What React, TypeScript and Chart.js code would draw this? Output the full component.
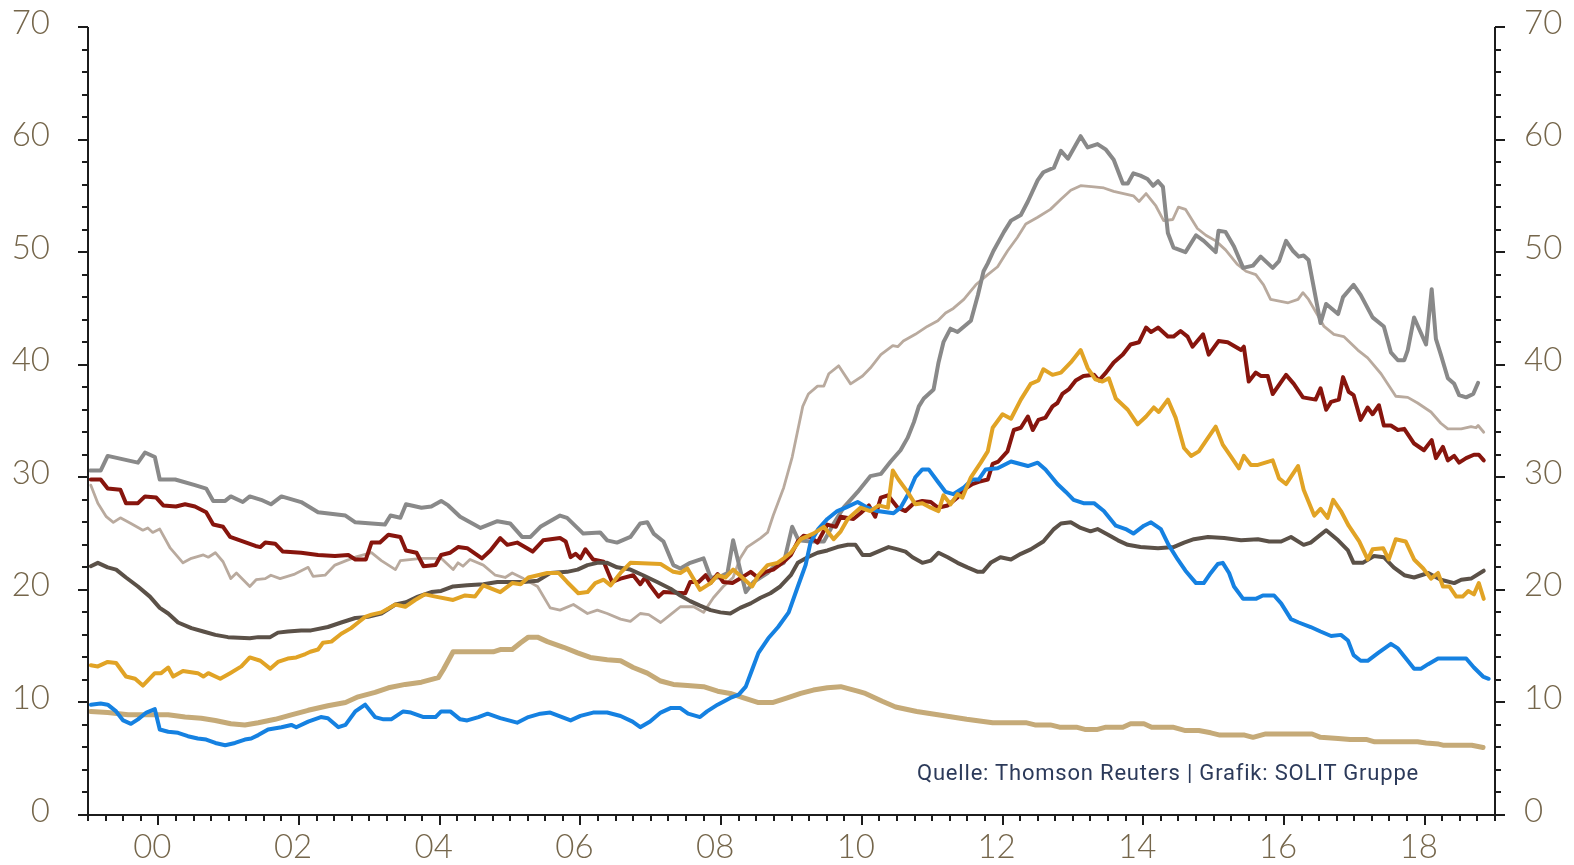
import React, { useEffect, useRef } from 'react';
import { Chart, registerables } from 'chart.js';

Chart.register(...registerables);

// ---- axis definitions ----
const xTickYears = [2000, 2002, 2004, 2006, 2008, 2010, 2012, 2014, 2016, 2018];
const xTickLabels = ['00', '02', '04', '06', '08', '10', '12', '14', '16', '18'];
const yTickValues = [0, 10, 20, 30, 40, 50, 60, 70];
const sourceText = 'Quelle: Thomson Reuters | Grafik: SOLIT Gruppe';

// ---- series: [year, value] ----
const grayPts = [
  [1999.03, 30.6], [1999.18, 30.6], [1999.28, 31.9], [1999.71, 31.3], [1999.81, 32.2], [1999.95, 31.8],
  [2000.02, 29.8], [2000.24, 29.8], [2000.52, 29.3], [2000.68, 29.0], [2000.78, 27.9], [2000.95, 27.9],
  [2001.03, 28.3], [2001.2, 27.8], [2001.3, 28.3], [2001.46, 28.0], [2001.6, 27.6], [2001.75, 28.3],
  [2002.03, 27.8], [2002.27, 26.9], [2002.66, 26.6], [2002.8, 26.0], [2003.22, 25.8], [2003.3, 26.6],
  [2003.44, 26.4], [2003.52, 27.6], [2003.74, 27.3], [2003.88, 27.4], [2004.02, 27.9], [2004.12, 27.5],
  [2004.29, 26.5], [2004.58, 25.5], [2004.82, 26.1], [2005.0, 25.9], [2005.17, 24.7], [2005.29, 24.7],
  [2005.43, 25.6], [2005.71, 26.6], [2005.81, 26.4], [2006.04, 25.0], [2006.28, 25.1], [2006.38, 24.4],
  [2006.52, 24.2], [2006.71, 24.7], [2006.85, 25.9], [2006.95, 26.0], [2007.04, 25.0], [2007.18, 24.3],
  [2007.32, 22.2], [2007.42, 21.9], [2007.56, 22.4], [2007.75, 22.8], [2007.85, 21.1], [2007.96, 21.1],
  [2008.09, 21.5], [2008.17, 24.4], [2008.27, 21.8], [2008.35, 19.8], [2008.46, 20.7], [2008.66, 21.5],
  [2008.74, 22.0], [2008.89, 22.4], [2009.01, 25.6], [2009.1, 24.4], [2009.27, 24.3], [2009.46, 24.3],
  [2009.6, 25.9], [2009.74, 27.3], [2009.94, 28.7], [2010.12, 30.1], [2010.27, 30.3], [2010.41, 31.4],
  [2010.55, 32.4], [2010.65, 33.5], [2010.74, 34.9], [2010.81, 36.3], [2010.88, 37.0], [2011.02, 37.8],
  [2011.09, 40.2], [2011.16, 42.0], [2011.26, 43.2], [2011.36, 42.9], [2011.55, 43.9], [2011.65, 46.2],
  [2011.73, 48.3], [2011.79, 49.0], [2011.87, 50.1], [2012.02, 51.8], [2012.12, 52.8], [2012.26, 53.3],
  [2012.36, 54.5], [2012.5, 56.4], [2012.58, 57.1], [2012.73, 57.5], [2012.83, 59.0], [2012.93, 58.3],
  [2013.11, 60.3], [2013.21, 59.3], [2013.35, 59.6], [2013.47, 59.1], [2013.58, 58.2], [2013.71, 56.1],
  [2013.78, 56.1], [2013.86, 57.0], [2013.96, 56.8], [2014.06, 56.5], [2014.14, 55.9], [2014.21, 56.3],
  [2014.28, 55.8], [2014.35, 51.7], [2014.43, 50.4], [2014.6, 50.0], [2014.75, 51.5], [2014.86, 51.0],
  [2015.03, 50.0], [2015.07, 51.9], [2015.17, 51.8], [2015.29, 50.5], [2015.42, 48.6], [2015.56, 48.8],
  [2015.67, 49.6], [2015.84, 48.6], [2015.93, 49.2], [2016.03, 51.0], [2016.13, 50.1], [2016.21, 49.6],
  [2016.28, 49.7], [2016.35, 49.3], [2016.52, 43.7], [2016.6, 45.4], [2016.77, 44.5], [2016.84, 46.0],
  [2016.99, 47.1], [2017.09, 46.2], [2017.26, 44.2], [2017.42, 43.4], [2017.52, 41.1], [2017.62, 40.4],
  [2017.71, 40.4], [2017.76, 41.3], [2017.85, 44.2], [2017.92, 43.2], [2018.02, 41.8], [2018.1, 46.7],
  [2018.16, 42.3], [2018.23, 40.9], [2018.33, 38.8], [2018.42, 38.3], [2018.49, 37.3], [2018.59, 37.1],
  [2018.69, 37.4], [2018.76, 38.4],
];

const taupePts = [
  [1999.04, 29.3], [1999.14, 27.7], [1999.26, 26.5], [1999.36, 26.0], [1999.46, 26.4], [1999.61, 25.9],
  [1999.78, 25.3], [1999.85, 25.5], [1999.92, 25.1], [2000.02, 25.4], [2000.17, 23.7], [2000.35, 22.4],
  [2000.47, 22.8], [2000.64, 23.1], [2000.71, 22.9], [2000.81, 23.3], [2000.92, 22.5], [2001.03, 21.0],
  [2001.11, 21.5], [2001.3, 20.3], [2001.39, 20.9], [2001.52, 21.0], [2001.6, 21.3], [2001.73, 21.0],
  [2001.94, 21.4], [2002.13, 22.0], [2002.2, 21.2], [2002.37, 21.3], [2002.51, 22.2], [2002.67, 22.6],
  [2002.8, 22.9], [2003.03, 23.3], [2003.17, 22.6], [2003.37, 21.8], [2003.44, 22.6], [2003.74, 22.8],
  [2004.02, 22.8], [2004.19, 21.8], [2004.26, 22.4], [2004.33, 22.1], [2004.43, 22.7], [2004.62, 22.2],
  [2004.79, 21.3], [2004.93, 21.1], [2005.03, 21.5], [2005.19, 21.0], [2005.39, 20.3], [2005.57, 18.4],
  [2005.71, 18.2], [2005.9, 18.7], [2006.1, 17.9], [2006.24, 18.2], [2006.38, 17.9], [2006.57, 17.4],
  [2006.71, 17.2], [2006.85, 17.9], [2006.97, 17.8], [2007.14, 17.1], [2007.28, 17.8], [2007.42, 18.5],
  [2007.61, 18.5], [2007.75, 18.0], [2007.89, 19.3], [2008.03, 20.3], [2008.17, 21.1], [2008.27, 22.8],
  [2008.37, 23.8], [2008.56, 24.6], [2008.66, 25.1], [2008.74, 26.6], [2008.89, 29.1], [2009.01, 31.8],
  [2009.16, 36.3], [2009.24, 37.4], [2009.37, 38.1], [2009.46, 38.1], [2009.53, 39.2], [2009.67, 39.9],
  [2009.84, 38.3], [2010.01, 39.0], [2010.12, 39.7], [2010.27, 40.9], [2010.44, 41.7], [2010.51, 41.6],
  [2010.59, 42.1], [2010.76, 42.7], [2010.93, 43.4], [2011.08, 43.9], [2011.19, 44.6], [2011.3, 45.0],
  [2011.45, 45.8], [2011.62, 47.1], [2011.79, 48.0], [2011.93, 48.7], [2012.07, 50.1], [2012.21, 51.3],
  [2012.33, 52.5], [2012.5, 53.1], [2012.68, 53.8], [2012.83, 54.7], [2012.97, 55.5], [2013.11, 55.9],
  [2013.3, 55.8], [2013.44, 55.7], [2013.58, 55.4], [2013.72, 55.2], [2013.86, 55.0], [2013.94, 54.5],
  [2014.04, 55.2], [2014.18, 54.1], [2014.29, 52.8], [2014.42, 52.9], [2014.5, 54.0], [2014.6, 53.8],
  [2014.77, 52.1], [2014.89, 51.5], [2015.03, 51.0], [2015.17, 50.2], [2015.34, 48.9], [2015.46, 48.3],
  [2015.6, 48.0], [2015.71, 47.1], [2015.81, 45.8], [2016.06, 45.5], [2016.2, 45.8], [2016.27, 46.4],
  [2016.35, 45.8], [2016.48, 44.4], [2016.57, 43.4], [2016.71, 42.7], [2016.85, 42.5], [2017.05, 41.3],
  [2017.19, 40.6], [2017.38, 39.2], [2017.59, 37.2], [2017.76, 37.1], [2017.9, 36.6], [2018.09, 35.8],
  [2018.23, 34.8], [2018.33, 34.3], [2018.52, 34.3], [2018.66, 34.5], [2018.73, 34.4], [2018.76, 34.6],
  [2018.84, 34.0],
];

const redPts = [
  [1999.04, 29.8], [1999.18, 29.8], [1999.28, 29.0], [1999.46, 28.9], [1999.54, 27.7], [1999.71, 27.7],
  [1999.81, 28.3], [1999.97, 28.2], [2000.07, 27.5], [2000.25, 27.4], [2000.38, 27.6], [2000.52, 27.4],
  [2000.68, 26.9], [2000.78, 25.8], [2000.92, 25.6], [2001.02, 24.7], [2001.16, 24.4], [2001.38, 23.9],
  [2001.45, 23.8], [2001.52, 24.2], [2001.66, 24.1], [2001.77, 23.4], [2002.03, 23.3], [2002.27, 23.1],
  [2002.51, 23.0], [2002.7, 23.1], [2002.8, 22.7], [2002.95, 22.7], [2003.03, 24.2], [2003.15, 24.2],
  [2003.27, 24.9], [2003.44, 24.7], [2003.52, 23.5], [2003.67, 23.3], [2003.77, 22.1], [2003.94, 22.2],
  [2004.02, 23.1], [2004.15, 23.3], [2004.26, 23.8], [2004.39, 23.7], [2004.6, 22.8], [2004.72, 23.5],
  [2004.86, 24.6], [2004.96, 24.0], [2005.1, 24.2], [2005.32, 23.4], [2005.47, 24.4], [2005.71, 24.6],
  [2005.79, 24.3], [2005.86, 22.9], [2005.93, 23.2], [2006.0, 22.8], [2006.07, 23.6], [2006.18, 22.7],
  [2006.33, 22.5], [2006.45, 20.7], [2006.57, 21.0], [2006.75, 21.3], [2006.85, 20.5], [2006.92, 21.1],
  [2006.99, 20.4], [2007.11, 19.4], [2007.18, 19.8], [2007.49, 19.7], [2007.56, 20.7], [2007.68, 20.7],
  [2007.78, 21.3], [2007.85, 20.6], [2007.95, 21.4], [2008.03, 20.7], [2008.16, 20.6], [2008.27, 21.0],
  [2008.42, 21.6], [2008.52, 21.1], [2008.63, 21.6], [2008.74, 21.8], [2008.89, 22.5], [2008.99, 23.1],
  [2009.09, 24.3], [2009.17, 24.8], [2009.27, 24.7], [2009.37, 24.2], [2009.51, 25.8], [2009.63, 25.6],
  [2009.7, 26.5], [2009.88, 26.3], [2009.98, 26.8], [2010.1, 27.5], [2010.19, 26.5], [2010.27, 28.2],
  [2010.37, 28.4], [2010.51, 27.3], [2010.62, 27.0], [2010.74, 27.7], [2010.86, 27.9], [2010.98, 27.8],
  [2011.08, 27.3], [2011.22, 27.5], [2011.36, 28.2], [2011.45, 28.9], [2011.57, 29.4], [2011.66, 29.6],
  [2011.79, 29.8], [2011.86, 31.2], [2011.94, 31.4], [2012.07, 32.3], [2012.16, 34.2], [2012.26, 34.4],
  [2012.36, 35.4], [2012.43, 34.2], [2012.51, 35.1], [2012.61, 35.3], [2012.71, 36.3], [2012.78, 36.6],
  [2012.85, 37.4], [2012.94, 37.8], [2013.04, 38.6], [2013.15, 39.0], [2013.3, 39.1], [2013.37, 38.6],
  [2013.47, 39.3], [2013.58, 40.2], [2013.71, 40.9], [2013.82, 41.8], [2013.94, 42.0], [2014.04, 43.3],
  [2014.11, 42.9], [2014.21, 43.3], [2014.35, 42.5], [2014.43, 42.5], [2014.53, 43.0], [2014.63, 42.5],
  [2014.7, 41.6], [2014.85, 42.7], [2014.93, 40.9], [2015.07, 42.1], [2015.2, 42.0], [2015.39, 41.3],
  [2015.43, 41.6], [2015.5, 38.5], [2015.6, 39.3], [2015.67, 39.0], [2015.77, 39.0], [2015.84, 37.4],
  [2016.03, 39.1], [2016.14, 38.3], [2016.27, 37.1], [2016.45, 36.9], [2016.52, 37.9], [2016.6, 36.0],
  [2016.67, 36.7], [2016.78, 36.9], [2016.84, 38.9], [2016.92, 37.6], [2016.99, 37.3], [2017.09, 35.1],
  [2017.19, 36.2], [2017.26, 35.6], [2017.35, 36.4], [2017.42, 34.6], [2017.52, 34.6], [2017.62, 34.2],
  [2017.71, 34.3], [2017.85, 33.0], [2017.99, 32.4], [2018.1, 33.3], [2018.16, 31.7], [2018.26, 32.7],
  [2018.33, 31.5], [2018.42, 31.9], [2018.49, 31.3], [2018.59, 31.7], [2018.7, 32.0], [2018.77, 32.0],
  [2018.84, 31.5],
];

const goldPts = [
  [1999.04, 13.3], [1999.14, 13.2], [1999.28, 13.6], [1999.4, 13.5], [1999.54, 12.3], [1999.67, 12.1],
  [1999.78, 11.5], [1999.95, 12.6], [2000.04, 12.6], [2000.14, 13.1], [2000.21, 12.3], [2000.35, 12.8],
  [2000.56, 12.6], [2000.64, 12.3], [2000.71, 12.6], [2000.88, 12.1], [2001.02, 12.6], [2001.18, 13.2],
  [2001.3, 14.0], [2001.45, 13.7], [2001.59, 13.0], [2001.7, 13.6], [2001.84, 13.9], [2001.96, 14.0],
  [2002.09, 14.3], [2002.16, 14.5], [2002.27, 14.7], [2002.34, 15.3], [2002.46, 15.4], [2002.6, 16.1],
  [2002.74, 16.6], [2002.84, 17.1], [2002.94, 17.6], [2003.03, 17.8], [2003.17, 18.0], [2003.37, 18.7],
  [2003.51, 18.5], [2003.65, 19.1], [2003.79, 19.6], [2003.94, 19.4], [2004.19, 19.1], [2004.36, 19.5],
  [2004.5, 19.4], [2004.62, 20.4], [2004.86, 19.8], [2005.03, 20.6], [2005.15, 20.5], [2005.26, 21.1],
  [2005.53, 21.5], [2005.69, 21.5], [2005.81, 20.7], [2005.97, 19.7], [2006.1, 19.8], [2006.21, 20.6],
  [2006.33, 20.9], [2006.43, 20.4], [2006.57, 21.5], [2006.71, 22.4], [2007.14, 22.3], [2007.32, 21.6],
  [2007.42, 21.5], [2007.52, 21.9], [2007.7, 20.0], [2007.85, 20.6], [2007.95, 21.3], [2008.06, 21.1],
  [2008.17, 21.8], [2008.3, 21.1], [2008.44, 20.3], [2008.53, 21.3], [2008.66, 22.2], [2008.8, 22.4],
  [2008.89, 22.8], [2008.99, 23.3], [2009.13, 24.5], [2009.31, 25.0], [2009.46, 25.6], [2009.6, 24.5],
  [2009.7, 25.2], [2009.8, 26.3], [2009.98, 27.3], [2010.12, 27.0], [2010.24, 27.5], [2010.37, 27.3],
  [2010.44, 30.6], [2010.52, 29.8], [2010.65, 28.7], [2010.76, 27.6], [2010.86, 27.7], [2010.98, 27.3],
  [2011.09, 27.0], [2011.16, 28.4], [2011.26, 27.6], [2011.36, 28.5], [2011.43, 28.2], [2011.55, 30.0],
  [2011.69, 31.3], [2011.79, 32.3], [2011.86, 34.4], [2012.0, 35.6], [2012.12, 35.2], [2012.26, 36.9],
  [2012.4, 38.3], [2012.51, 38.6], [2012.58, 39.6], [2012.71, 39.1], [2012.83, 39.3], [2012.97, 40.2],
  [2013.11, 41.3], [2013.21, 39.7], [2013.32, 38.7], [2013.42, 38.5], [2013.51, 38.8], [2013.61, 37.0],
  [2013.78, 36.0], [2013.92, 34.7], [2014.04, 35.4], [2014.15, 36.2], [2014.22, 35.8], [2014.35, 36.9],
  [2014.46, 35.3], [2014.58, 32.6], [2014.68, 31.9], [2014.79, 32.3], [2014.92, 33.5], [2015.03, 34.5],
  [2015.13, 32.9], [2015.24, 31.9], [2015.36, 30.8], [2015.43, 31.9], [2015.53, 31.1], [2015.63, 31.1],
  [2015.84, 31.5], [2015.93, 29.9], [2016.03, 29.4], [2016.2, 31.0], [2016.28, 28.9], [2016.43, 26.6],
  [2016.52, 27.2], [2016.62, 26.4], [2016.7, 28.0], [2016.81, 27.0], [2016.92, 25.7], [2017.07, 24.3],
  [2017.19, 22.7], [2017.26, 23.6], [2017.41, 23.7], [2017.49, 22.7], [2017.59, 24.5], [2017.73, 24.3],
  [2017.85, 22.7], [2017.98, 21.9], [2018.09, 21.0], [2018.19, 21.5], [2018.26, 20.3], [2018.35, 20.3],
  [2018.45, 19.4], [2018.54, 19.4], [2018.62, 19.9], [2018.7, 19.6], [2018.77, 20.6], [2018.84, 19.2],
];

const bluePts = [
  [1999.04, 9.8], [1999.18, 9.9], [1999.28, 9.8], [1999.4, 9.2], [1999.5, 8.4], [1999.61, 8.1],
  [1999.71, 8.5], [1999.83, 9.1], [1999.95, 9.4], [2000.02, 7.6], [2000.14, 7.4], [2000.28, 7.3],
  [2000.42, 7.0], [2000.56, 6.8], [2000.68, 6.7], [2000.81, 6.4], [2000.95, 6.2], [2001.09, 6.4],
  [2001.23, 6.7], [2001.32, 6.8], [2001.42, 7.1], [2001.56, 7.6], [2001.75, 7.8], [2001.89, 8.0],
  [2001.96, 7.8], [2002.13, 8.3], [2002.31, 8.7], [2002.41, 8.6], [2002.56, 7.8], [2002.66, 8.0],
  [2002.8, 9.2], [2002.94, 9.8], [2003.08, 8.7], [2003.2, 8.5], [2003.31, 8.5], [2003.48, 9.2],
  [2003.59, 9.1], [2003.77, 8.7], [2003.94, 8.7], [2004.02, 9.2], [2004.15, 9.2], [2004.29, 8.5],
  [2004.39, 8.4], [2004.55, 8.7], [2004.68, 9.0], [2004.86, 8.6], [2005.1, 8.2], [2005.26, 8.7],
  [2005.43, 9.0], [2005.57, 9.1], [2005.86, 8.4], [2006.0, 8.8], [2006.18, 9.1], [2006.38, 9.1],
  [2006.57, 8.8], [2006.74, 8.3], [2006.85, 7.8], [2006.99, 8.3], [2007.14, 9.1], [2007.28, 9.5],
  [2007.42, 9.5], [2007.53, 9.0], [2007.7, 8.7], [2007.8, 9.2], [2007.95, 9.8], [2008.13, 10.4],
  [2008.25, 10.7], [2008.35, 11.4], [2008.44, 12.9], [2008.53, 14.4], [2008.67, 15.7], [2008.81, 16.7],
  [2008.96, 18.0], [2009.09, 20.3], [2009.2, 22.2], [2009.27, 24.2], [2009.38, 25.4], [2009.51, 26.3],
  [2009.65, 27.0], [2009.77, 27.3], [2009.94, 27.8], [2010.08, 27.3], [2010.22, 27.0], [2010.45, 26.8],
  [2010.55, 27.3], [2010.65, 28.4], [2010.76, 30.0], [2010.86, 30.7], [2010.95, 30.7], [2011.08, 29.6],
  [2011.19, 28.7], [2011.3, 28.5], [2011.45, 29.1], [2011.57, 29.8], [2011.66, 29.8], [2011.76, 30.7],
  [2011.93, 30.8], [2012.12, 31.4], [2012.36, 31.0], [2012.5, 31.3], [2012.61, 30.7], [2012.78, 29.4],
  [2012.9, 28.7], [2013.01, 28.0], [2013.15, 27.7], [2013.3, 27.7], [2013.44, 27.0], [2013.61, 25.7],
  [2013.75, 25.4], [2013.86, 25.0], [2014.01, 25.7], [2014.11, 26.0], [2014.25, 25.4], [2014.36, 24.0],
  [2014.49, 22.7], [2014.6, 21.7], [2014.75, 20.6], [2014.86, 20.6], [2014.96, 21.5], [2015.06, 22.3],
  [2015.13, 22.4], [2015.22, 21.5], [2015.29, 20.3], [2015.42, 19.2], [2015.6, 19.2], [2015.7, 19.5],
  [2015.86, 19.5], [2015.96, 18.8], [2016.1, 17.4], [2016.21, 17.1], [2016.38, 16.7], [2016.52, 16.3],
  [2016.67, 15.9], [2016.81, 16.0], [2016.91, 15.5], [2016.99, 14.2], [2017.09, 13.7], [2017.19, 13.7],
  [2017.34, 14.4], [2017.52, 15.2], [2017.62, 14.8], [2017.76, 13.7], [2017.85, 13.0], [2017.95, 13.0],
  [2018.05, 13.4], [2018.19, 13.9], [2018.42, 13.9], [2018.59, 13.9], [2018.7, 13.1], [2018.83, 12.3],
  [2018.91, 12.1],
];

const brownPts = [
  [1999.04, 22.1], [1999.14, 22.4], [1999.28, 22.0], [1999.4, 21.8], [1999.54, 21.1], [1999.71, 20.3],
  [1999.88, 19.4], [2000.02, 18.4], [2000.14, 17.9], [2000.28, 17.1], [2000.47, 16.6], [2000.64, 16.3],
  [2000.81, 16.0], [2000.99, 15.8], [2001.3, 15.7], [2001.42, 15.8], [2001.59, 15.8], [2001.7, 16.2],
  [2001.84, 16.3], [2002.03, 16.4], [2002.17, 16.4], [2002.41, 16.7], [2002.6, 17.1], [2002.8, 17.5],
  [2002.98, 17.6], [2003.17, 17.9], [2003.37, 18.7], [2003.52, 18.9], [2003.69, 19.4], [2003.88, 19.8],
  [2004.02, 19.9], [2004.19, 20.3], [2004.39, 20.4], [2004.62, 20.5], [2004.82, 20.7], [2005.19, 20.7],
  [2005.39, 20.8], [2005.57, 21.5], [2005.81, 21.6], [2005.96, 21.8], [2006.1, 22.2], [2006.24, 22.4],
  [2006.38, 22.4], [2006.52, 22.0], [2006.71, 21.8], [2006.89, 21.3], [2007.09, 20.7], [2007.28, 20.1],
  [2007.42, 19.5], [2007.56, 19.0], [2007.7, 18.6], [2007.85, 18.2], [2007.99, 18.0], [2008.13, 17.9],
  [2008.27, 18.4], [2008.42, 18.8], [2008.56, 19.3], [2008.7, 19.7], [2008.84, 20.3], [2008.99, 21.3],
  [2009.09, 22.4], [2009.23, 22.9], [2009.37, 23.3], [2009.51, 23.5], [2009.65, 23.8], [2009.8, 24.0],
  [2009.91, 24.0], [2010.01, 23.1], [2010.12, 23.1], [2010.27, 23.5], [2010.38, 23.8], [2010.51, 23.6],
  [2010.62, 23.4], [2010.72, 22.9], [2010.86, 22.4], [2010.98, 22.6], [2011.09, 23.3], [2011.22, 22.9],
  [2011.36, 22.4], [2011.5, 22.0], [2011.65, 21.6], [2011.72, 21.6], [2011.83, 22.4], [2011.97, 22.9],
  [2012.12, 22.7], [2012.26, 23.2], [2012.4, 23.6], [2012.58, 24.3], [2012.73, 25.4], [2012.83, 25.9],
  [2012.97, 26.0], [2013.11, 25.5], [2013.25, 25.2], [2013.35, 25.4], [2013.5, 24.9], [2013.64, 24.4],
  [2013.78, 24.0], [2013.96, 23.8], [2014.21, 23.7], [2014.43, 23.8], [2014.58, 24.2], [2014.72, 24.5],
  [2014.92, 24.7], [2015.15, 24.6], [2015.39, 24.4], [2015.63, 24.5], [2015.79, 24.3], [2015.96, 24.3],
  [2016.1, 24.7], [2016.28, 24.0], [2016.38, 24.2], [2016.6, 25.3], [2016.77, 24.4], [2016.91, 23.5],
  [2016.99, 22.4], [2017.12, 22.4], [2017.28, 23.0], [2017.42, 22.9], [2017.56, 22.0], [2017.71, 21.3],
  [2017.85, 21.1], [2018.05, 21.5], [2018.23, 20.9], [2018.42, 20.6], [2018.52, 20.9], [2018.66, 21.0],
  [2018.84, 21.7],
];

const tanPts = [
  [1999.04, 9.2], [1999.28, 9.1], [1999.57, 8.9], [2000.14, 8.9], [2000.38, 8.7], [2000.61, 8.6],
  [2000.81, 8.4], [2001.03, 8.1], [2001.23, 8.0], [2001.42, 8.2], [2001.66, 8.5], [2001.89, 8.9],
  [2002.13, 9.3], [2002.41, 9.7], [2002.66, 10.0], [2002.84, 10.5], [2003.08, 10.9], [2003.27, 11.3],
  [2003.51, 11.6], [2003.74, 11.8], [2003.98, 12.2], [2004.05, 12.9], [2004.19, 14.5], [2004.48, 14.5],
  [2004.76, 14.5], [2004.86, 14.7], [2005.03, 14.7], [2005.15, 15.3], [2005.26, 15.8], [2005.39, 15.8],
  [2005.53, 15.4], [2005.76, 14.9], [2005.96, 14.4], [2006.14, 14.0], [2006.38, 13.8], [2006.57, 13.7],
  [2006.75, 13.1], [2006.95, 12.6], [2007.14, 11.9], [2007.32, 11.6], [2007.52, 11.5], [2007.75, 11.4],
  [2007.95, 11.0], [2008.13, 10.8], [2008.32, 10.4], [2008.52, 10.0], [2008.74, 10.0], [2008.94, 10.4],
  [2009.13, 10.8], [2009.31, 11.1], [2009.51, 11.3], [2009.7, 11.4], [2009.94, 11.0], [2010.05, 10.8],
  [2010.29, 10.1], [2010.48, 9.6], [2010.78, 9.2], [2011.08, 8.9], [2011.49, 8.5], [2011.86, 8.2],
  [2012.33, 8.2], [2012.46, 8.0], [2012.68, 8.0], [2012.81, 7.8], [2013.05, 7.8], [2013.17, 7.6],
  [2013.35, 7.6], [2013.47, 7.8], [2013.71, 7.8], [2013.82, 8.1], [2014.01, 8.1], [2014.12, 7.8],
  [2014.42, 7.8], [2014.6, 7.5], [2014.79, 7.5], [2014.96, 7.3], [2015.09, 7.1], [2015.44, 7.1],
  [2015.56, 6.9], [2015.74, 7.2], [2016.4, 7.2], [2016.52, 6.9], [2016.77, 6.8], [2016.94, 6.7],
  [2017.18, 6.7], [2017.29, 6.5], [2017.9, 6.5], [2018.02, 6.4], [2018.2, 6.3], [2018.26, 6.2],
  [2018.67, 6.2], [2018.83, 6.0],
];

// drawing order: first = on top
const seriesList = [
  { pts: goldPts, color: '#e1a325', width: 4 },
  { pts: bluePts, color: '#1581e1', width: 4 },
  { pts: brownPts, color: '#5b5148', width: 4 },
  { pts: redPts, color: '#87150d', width: 4 },
  { pts: grayPts, color: '#898989', width: 4 },
  { pts: tanPts, color: '#c5aa78', width: 5 },
  { pts: taupePts, color: '#b9aa9e', width: 2.8 },
];

const labelFont = { family: 'Lato, "Noto Sans", sans-serif', size: 33, weight: '300' as any };
const labelColor = '#75664b';

const axesPlugin = {
  id: 'customAxes',
  afterDatasetsDraw(chart: any) {
    const { ctx, chartArea } = chart;
    const { left, right, top, bottom } = chartArea;
    const xs = chart.scales.x;
    const ys = chart.scales.y;
    ctx.save();
    ctx.strokeStyle = '#1c1c1c';
    ctx.lineWidth = 2;
    ctx.lineCap = 'butt';
    ctx.beginPath();
    ctx.moveTo(left, top);
    ctx.lineTo(left, bottom);
    ctx.moveTo(left - 10, bottom);
    ctx.lineTo(right + 10, bottom);
    ctx.moveTo(right, bottom);
    ctx.lineTo(right, top);
    for (let v = 0; v <= 70; v += 2) {
      const py = Math.round(ys.getPixelForValue(v));
      const len = v % 10 === 0 ? 10 : 6;
      ctx.moveTo(left - len, py);
      ctx.lineTo(left, py);
      ctx.moveTo(right, py);
      ctx.lineTo(right + len, py);
    }
    for (let q = 0; q <= 80; q++) {
      const px = Math.round(xs.getPixelForValue(1999 + q / 4));
      const len = q % 8 === 4 ? 10 : 6;
      ctx.moveTo(px, bottom);
      ctx.lineTo(px, bottom + len);
    }
    ctx.stroke();
    ctx.restore();
  },
};

const zeroPad = (scale: any) => {
  scale.paddingTop = 0;
  scale.paddingBottom = 0;
  scale.paddingLeft = 0;
  scale.paddingRight = 0;
};

export default function App() {
  const canvasRef = useRef<HTMLCanvasElement | null>(null);

  useEffect(() => {
    if (!canvasRef.current) return;
    const chart = new Chart(canvasRef.current, {
      type: 'line',
      data: {
        datasets: seriesList.map((s) => ({
          data: s.pts.map((p) => ({ x: p[0], y: p[1] })),
          borderColor: s.color,
          backgroundColor: s.color,
          borderWidth: s.width,
          pointRadius: 0,
          tension: 0,
          fill: false,
          borderJoinStyle: 'round' as const,
          borderCapStyle: 'round' as const,
        })),
      },
      options: {
        animation: false,
        responsive: false,
        devicePixelRatio: 1,
        layout: { padding: { top: 27, left: 0, right: 0, bottom: 0 } },
        plugins: { legend: { display: false }, tooltip: { enabled: false }, title: { display: false } },
        events: [],
        scales: {
          x: {
            type: 'linear',
            position: 'bottom',
            min: 1999,
            max: 2019,
            grid: { display: false, drawTicks: false },
            border: { display: false },
            afterBuildTicks: (scale: any) => {
              scale.ticks = xTickYears.map((v) => ({ value: v }));
            },
            afterFit: (scale: any) => {
              scale.height = 50;
              zeroPad(scale);
            },
            ticks: {
              autoSkip: false,
              maxRotation: 0,
              minRotation: 0,
              padding: 13,
              labelOffset: -6,
              font: labelFont,
              color: labelColor,
              callback: (_v: any, i: number) => xTickLabels[i],
            },
          },
          y: {
            type: 'linear',
            position: 'left',
            min: 0,
            max: 70,
            grid: { display: false, drawTicks: false },
            border: { display: false },
            afterBuildTicks: (scale: any) => {
              scale.ticks = yTickValues.map((v) => ({ value: v }));
            },
            afterFit: (scale: any) => {
              scale.width = 88;
              zeroPad(scale);
            },
            ticks: { padding: 38, labelOffset: -4, font: labelFont, color: labelColor },
          },
          y2: {
            type: 'linear',
            position: 'right',
            min: 0,
            max: 70,
            grid: { display: false, drawTicks: false },
            border: { display: false },
            afterBuildTicks: (scale: any) => {
              scale.ticks = yTickValues.map((v) => ({ value: v }));
            },
            afterFit: (scale: any) => {
              scale.width = 79;
              zeroPad(scale);
            },
            ticks: { padding: 29, labelOffset: -4, font: labelFont, color: labelColor },
          },
        },
      } as any,
      plugins: [axesPlugin],
    });
    return () => chart.destroy();
  }, []);

  return (
    <div style={{ position: 'absolute', left: 0, top: 0, width: 1574, height: 865, background: '#fff' }}>
      <canvas ref={canvasRef} width={1574} height={865} style={{ display: 'block' }} />
      <div
        style={{
          position: 'absolute',
          left: 917,
          top: 762,
          fontFamily: 'Roboto, "Noto Sans", sans-serif',
          fontWeight: 400,
          fontSize: 22,
          lineHeight: '22px',
          letterSpacing: '0.8px',
          color: '#2c3a5a',
          whiteSpace: 'nowrap',
        }}
      >
        {sourceText}
      </div>
    </div>
  );
}
